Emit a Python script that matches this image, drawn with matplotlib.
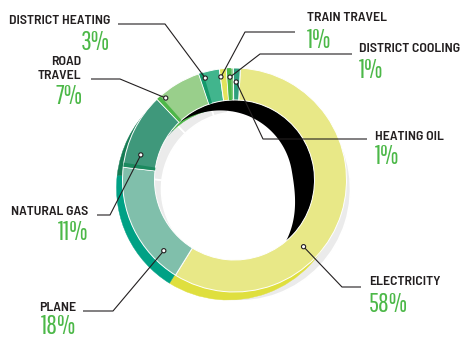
import matplotlib
matplotlib.use("Agg")
import matplotlib.pyplot as plt
from matplotlib.patches import Wedge, Circle, Polygon
import numpy as np

# emissions share by source
labels = ['ELECTRICITY', 'PLANE', 'NATURAL GAS', 'ROAD\nTRAVEL', 'DISTRICT HEATING',
          'TRAIN TRAVEL', 'DISTRICT COOLING', 'HEATING OIL']
shares = [58, 18, 11, 7, 3, 1, 1, 1]

front_colors = ['#e8e887', '#80bfab', '#3f987b', '#99cf8b', '#41b58d', '#e3e35c', '#7cc67a', '#2e9f7c']
side_colors = ['#dfdf3e', '#00a185', '#167b54', '#4db748', '#15996b', '#d6d633', '#4cb848', '#1f7d5c']
strip_colors = [None, None, '#1b8a5f', '#4db748', '#15996b', None, '#4cb848', None]

W, H = 462, 339
cx, cy = 234.5, H - 180
r_out, r_in = 112, 80
start = 87

# label layout (image pixels, y measured from top)
text_pos = [(369, 282, 'left'), (76, 308, 'right'), (88, 212, 'right'), (81, 69, 'right'),
            (110, 21, 'right'), (307, 18, 'left'), (359, 49, 'left'), (375, 137, 'left')]
pct_pos = [(369, 304), (76, 326), (88, 232), (82, 97), (110, 42), (307, 41), (359, 71), (375, 156)]
leader = [[(361, 287), (342, 287)], [(83, 311), (113, 311)], [(97, 215), (110, 215)],
          [(91, 79), (120, 79)], [(118, 24), (165, 24)], [(295, 32), (245, 32)],
          [(352, 54), (260, 54)], [(367, 139), (263, 139)]]
anchor = [(-44, 96), (225, 100), (165, 97), (130, 107), (106, 106), (97.5, 104), (92.5, 103), (89, 98)]

fig = plt.figure(figsize=(W / 100, H / 100), dpi=100)
ax = fig.add_axes([0, 0, 1, 1])
ax.set_xlim(0, W)
ax.set_ylim(0, H)
ax.set_aspect('equal')
ax.axis('off')

# slice angles, clockwise from the top
bounds = []
a = start
for s in shares:
    span = 360 * s / sum(shares)
    bounds.append((a - span, a))
    a -= span

# drop shadow
for t1, t2 in bounds:
    ax.add_patch(Wedge((cx + 4, cy - 9), r_out, t1, t2, width=r_out - 77,
                       facecolor='#ebebeb', edgecolor='white', lw=1.2, zorder=1))

# extruded side of the ring
for (t1, t2), c in zip(bounds, side_colors):
    ax.add_patch(Wedge((cx - 6, cy - 8), r_out, t1, t2, width=r_out - r_in,
                       facecolor=c, edgecolor=c, lw=0.3, zorder=2))

# dark inner wall on the upper right
th = np.linspace(-50, 135, 200)
w = np.where(th < 10, 22 * np.sin(np.pi * (th + 50) / 120),
             22 * np.cos(np.pi * (th - 10) / 250))
w = np.clip(w, 0, None)
outer = np.c_[cx + r_in * np.cos(np.radians(th)), cy + r_in * np.sin(np.radians(th))]
inner = np.c_[cx + (r_in - w) * np.cos(np.radians(th)), cy + (r_in - w) * np.sin(np.radians(th))]
ax.add_patch(Polygon(np.r_[outer, inner[::-1]], closed=True, facecolor='black',
                     edgecolor='none', zorder=3))

# front face
for (t1, t2), c in zip(bounds, front_colors):
    ax.add_patch(Wedge((cx, cy), r_out, t1, t2, width=r_out - r_in,
                       facecolor=c, edgecolor='white', lw=0.7, zorder=4))

# darker strip on the leading edge of some slices
for (t1, t2), c in zip(bounds, strip_colors):
    if c is None:
        continue
    ax.add_patch(Wedge((cx, cy), r_out, t2 - 2.3, t2 - 0.2, width=r_out - r_in,
                       facecolor=c, edgecolor='none', zorder=5))

label_font = ['Barlow Semi Condensed', 'Roboto Condensed', 'DejaVu Sans']
pct_font = ['Pathway Gothic One', 'Barlow Condensed', 'DejaVu Sans']
for i, lab in enumerate(labels):
    x, y, ha = text_pos[i]
    ax.text(x, H - y, lab, ha=ha, va='center', fontsize=10, fontweight='semibold',
            family=label_font, color='#231f20', linespacing=1.2, zorder=6)
    px, py = pct_pos[i]
    ax.text(px, H - py, f'{shares[i]}%', ha=ha, va='center', fontsize=19,
            family=pct_font, color='#4cb848', zorder=6)
    ang, rad = anchor[i]
    dx = cx + rad * np.cos(np.radians(ang))
    dy = cy + rad * np.sin(np.radians(ang))
    pts = leader[i] + [(dx, H - dy)]
    ax.plot([p[0] for p in pts], [H - p[1] for p in pts], color='#231f20', lw=0.8,
            solid_capstyle='butt', zorder=7)
    ax.add_patch(Circle((dx, dy), 2.1, facecolor='white', edgecolor='#231f20', lw=0.8, zorder=8))

fig.savefig('out.png', dpi=100, facecolor='white')
